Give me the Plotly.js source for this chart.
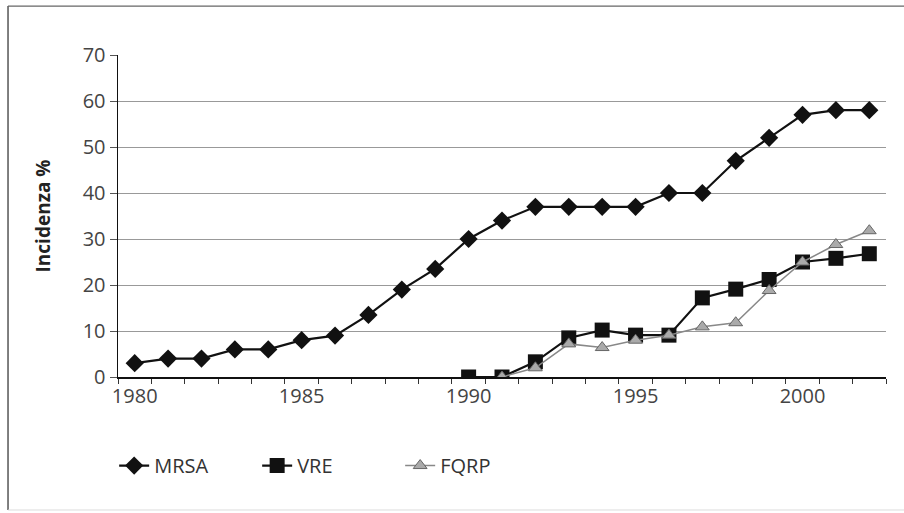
<!DOCTYPE html>
<html>
<head>
<meta charset="utf-8">
<script src="https://cdn.plot.ly/plotly-3.0.1.min.js"></script>
<style>html,body{margin:0;padding:0;background:#fff;}#chart{width:904px;height:513px;}</style>
</head>
<body>
<div id="chart"></div>
<script>
const years = [1980,1981,1982,1983,1984,1985,1986,1987,1988,1989,1990,1991,1992,1993,1994,1995,1996,1997,1998,1999,2000,2001,2002];
const mrsa = [3,4,4,6,6,8,9,13.5,19,23.5,30,34,37,37,37,37,40,40,47,52,57,58,58];
const vreYears = [1990,1991,1992,1993,1994,1995,1996,1997,1998,1999,2000,2001,2002];
const vre = [0,0,3.3,8.5,10.2,9.1,9.1,17.2,19.1,21.2,25,25.8,26.8];
const fqrpYears = [1991,1992,1993,1994,1995,1996,1997,1998,1999,2000,2001,2002];
const fqrp = [0,2,7.2,6.4,8,9.1,10.9,11.8,18.8,25,28.8,31.8];
const xTickVals = [1980,1985,1990,1995,2000];
const xTickText = ['1980','1985','1990','1995','2000'];
const yTickVals = [0,10,20,30,40,50,60,70];

const traces = [
  {x: years, y: mrsa, name: 'MRSA', type: 'scatter', mode: 'lines+markers',
   line: {color: '#111', width: 2.2},
   marker: {symbol: 'diamond', size: 14, color: '#111'}},
  {x: vreYears, y: vre, name: 'VRE', type: 'scatter', mode: 'lines+markers',
   line: {color: '#111', width: 2.2},
   marker: {symbol: 'square', size: 15, color: '#111'}},
  {x: fqrpYears, y: fqrp, name: 'FQRP', type: 'scatter', mode: 'lines+markers',
   line: {color: '#888', width: 1.5},
   marker: {symbol: 'triangle-up', size: 12, color: '#aaa', line: {color: '#666', width: 1}}}
];

const layout = {
  width: 904, height: 513,
  margin: {l: 118, r: 18, t: 55, b: 136},
  paper_bgcolor: '#fff', plot_bgcolor: '#fff',
  font: {family: '"Open Sans", sans-serif', color: '#333', size: 20},
  showlegend: true,
  legend: {orientation: 'h', x: -0.005, xanchor: 'left', y: -0.275, yanchor: 'middle',
           font: {size: 20, color: '#333'}, traceorder: 'normal', entrywidth: 98, entrywidthmode: 'pixels'},
  xaxis: {
    range: [1979.5, 2002.5], tickvals: xTickVals, ticktext: xTickText,
    ticks: '', showgrid: false, zeroline: false, showline: true,
    linecolor: '#111', linewidth: 1.5,
    tickfont: {size: 20, color: '#444'},
    minor: {dtick: 1, tick0: 1979.5, ticks: 'outside', ticklen: 5, tickcolor: '#333', showgrid: false}
  },
  yaxis: {
    range: [0, 70], tickvals: yTickVals, ticks: 'outside', ticklen: 7, tickcolor: '#555',
    showgrid: true, gridcolor: '#999', gridwidth: 1, zeroline: true, zerolinecolor: '#111', zerolinewidth: 1.5,
    showline: true, linecolor: '#111', linewidth: 1.5,
    tickfont: {size: 20, color: '#444'},
    title: {text: '<b>Incidenza %</b>', font: {size: 19, color: '#222'}, standoff: 27}
  },
  shapes: [
    {type: 'line', xref: 'paper', yref: 'paper', x0: -0.1432, x1: -0.1432, y0: 1.152, y1: -0.413,
     line: {color: '#555', width: 1.5}},
    {type: 'line', xref: 'paper', yref: 'paper', x0: -0.1432, x1: 1.03, y0: 1.152, y1: 1.152,
     line: {color: '#666', width: 1.2}},
    {type: 'line', xref: 'paper', yref: 'paper', x0: -0.1432, x1: 1.03, y0: -0.413, y1: -0.413,
     line: {color: '#ddd', width: 1}}
  ]
};

Plotly.newPlot('chart', traces, layout, {displayModeBar: false, staticPlot: true});
</script>
</body>
</html>
